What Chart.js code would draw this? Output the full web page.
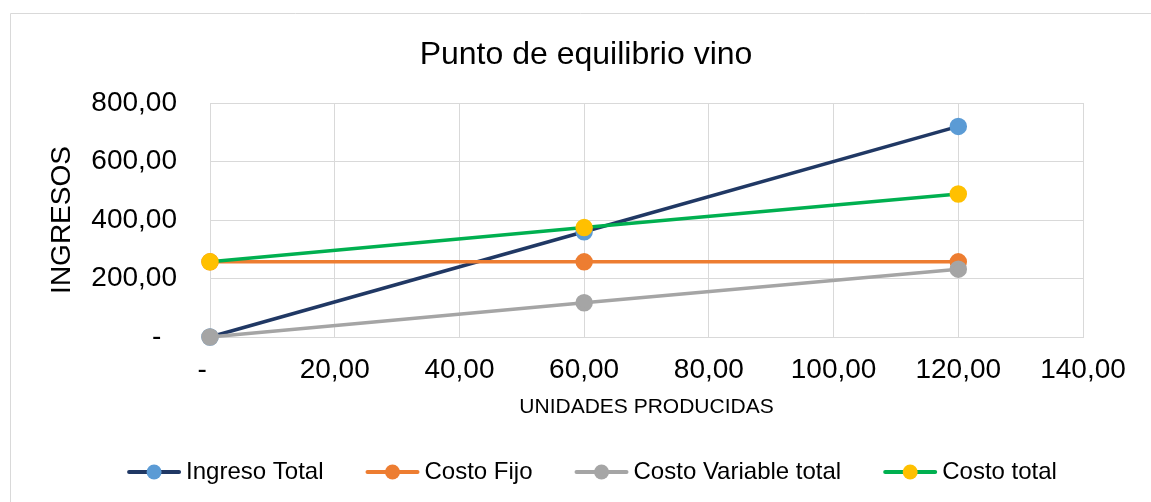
<!DOCTYPE html>
<html lang="es">
<head>
    <meta charset="UTF-8">
    <title>Punto de equilibrio vino</title>
    <script src="https://cdn.jsdelivr.net/npm/chart.js"></script>
    <style>
        html, body { margin: 0; padding: 0; background: #fff; }
        #wrap { width: 1151px; height: 502px; }
    </style>
</head>
<body>
    <div id="wrap">
        <canvas id="myChart"></canvas>
    </div>
    <script>
        // unidades producidas y valores de cada serie
        const unidades = [0, 60, 120];
        const ingresoTotal = [0, 360, 720];
        const costoFijo = [257, 257, 257];
        const costoVariable = [0, 117, 232];
        const costoTotal = [257, 374, 489];

        const xTicks = [0, 20, 40, 60, 80, 100, 120, 140];
        const yTicks = [0, 200, 400, 600, 800];

        const FONT = "'Liberation Sans', Arial, sans-serif";

        // formato contable: 0 se muestra como guion
        function fmt(v) {
            if (v === 0) return '-  ';
            return v.toFixed(2).replace('.', ',');
        }

        function pts(values) {
            return unidades.map((u, i) => ({ x: u, y: values[i] }));
        }

        // borde del area del grafico (solo arriba e izquierda)
        const chartBorder = {
            id: 'chartBorder',
            beforeDraw(chart) {
                const ctx = chart.ctx;
                ctx.save();
                ctx.strokeStyle = '#D9D9D9';
                ctx.lineWidth = 1;
                ctx.beginPath();
                ctx.moveTo(10.5, chart.height);
                ctx.lineTo(10.5, 13.5);
                ctx.lineTo(chart.width, 13.5);
                ctx.stroke();
                ctx.restore();
            }
        };

        // titulo y leyenda estilo Excel (linea con marcador)
        const excelDecor = {
            id: 'excelDecor',
            afterDraw(chart) {
                const ctx = chart.ctx;
                ctx.save();
                ctx.fillStyle = '#000';
                ctx.font = '32px ' + FONT;
                ctx.textAlign = 'center';
                ctx.textBaseline = 'alphabetic';
                ctx.fillText('Punto de equilibrio vino', 586, 64);

                ctx.font = '24px ' + FONT;
                const lineW = 54, gap = 5, itemGap = 42;
                const items = chart.data.datasets.map(ds => ({
                    ds, w: lineW + gap + ctx.measureText(ds.label).width
                }));
                const total = items.reduce((s, it) => s + it.w, 0) + itemGap * (items.length - 1);
                let x = 592 - total / 2;
                const y = 472;
                items.forEach(it => {
                    const ds = it.ds;
                    ctx.strokeStyle = ds.borderColor;
                    ctx.lineWidth = 4;
                    ctx.lineCap = 'round';
                    ctx.beginPath();
                    ctx.moveTo(x + 2, y);
                    ctx.lineTo(x + lineW - 2, y);
                    ctx.stroke();
                    ctx.fillStyle = ds.pointBackgroundColor;
                    ctx.beginPath();
                    ctx.arc(x + lineW / 2, y, 7.5, 0, Math.PI * 2);
                    ctx.fill();
                    ctx.fillStyle = '#000';
                    ctx.textAlign = 'left';
                    ctx.textBaseline = 'middle';
                    ctx.fillText(ds.label, x + lineW + gap, y);
                    x += it.w + itemGap;
                });
                ctx.restore();
            }
        };

        function serie(label, data, line, marker, order) {
            return {
                label,
                data: pts(data),
                borderColor: line,
                backgroundColor: line,
                pointBackgroundColor: marker,
                pointBorderColor: marker,
                pointRadius: 7,
                pointHoverRadius: 7,
                borderWidth: 3.5,
                order,
                clip: false
            };
        }

        const ctx = document.getElementById('myChart').getContext('2d');
        const myChart = new Chart(ctx, {
            type: 'line',
            data: {
                datasets: [
                    serie('Ingreso Total', ingresoTotal, '#203864', '#5B9BD5', 4),
                    serie('Costo Fijo', costoFijo, '#ED7D31', '#ED7D31', 3),
                    serie('Costo Variable total', costoVariable, '#A5A5A5', '#A5A5A5', 2),
                    serie('Costo total', costoTotal, '#00B050', '#FFC000', 1)
                ]
            },
            options: {
                responsive: true,
                maintainAspectRatio: false,
                animation: false,
                layout: {
                    padding: { left: 0, top: 103, right: 68, bottom: 0 }
                },
                scales: {
                    x: {
                        type: 'linear',
                        min: 0,
                        max: 140,
                        afterBuildTicks: scale => {
                            scale.ticks = xTicks.map(v => ({ value: v }));
                        },
                        afterFit: scale => { scale.height = 165; },
                        ticks: {
                            autoSkip: false,
                            maxRotation: 0,
                            padding: 16,
                            color: '#000',
                            font: { family: FONT, size: 28 },
                            callback: v => fmt(v)
                        },
                        grid: { color: '#D9D9D9', drawTicks: false },
                        border: { color: '#D9D9D9' },
                        title: {
                            display: true,
                            text: 'UNIDADES PRODUCIDAS',
                            color: '#000',
                            font: { family: FONT, size: 21 },
                            padding: { top: 0, bottom: 82 }
                        }
                    },
                    y: {
                        min: 0,
                        max: 800,
                        afterBuildTicks: scale => {
                            scale.ticks = yTicks.map(v => ({ value: v }));
                        },
                        afterFit: scale => { scale.width = 210; },
                        ticks: {
                            padding: 33,
                            color: '#000',
                            font: { family: FONT, size: 28 },
                            callback: v => fmt(v)
                        },
                        grid: { color: '#D9D9D9', drawTicks: false },
                        border: { color: '#D9D9D9' },
                        title: {
                            display: true,
                            text: 'INGRESOS',
                            color: '#000',
                            font: { family: FONT, size: 28 },
                            padding: { top: 45, bottom: 0 }
                        }
                    }
                },
                plugins: {
                    legend: { display: false },
                    title: { display: false },
                    tooltip: { enabled: false }
                }
            },
            plugins: [chartBorder, excelDecor]
        });
    </script>
</body>
</html>
